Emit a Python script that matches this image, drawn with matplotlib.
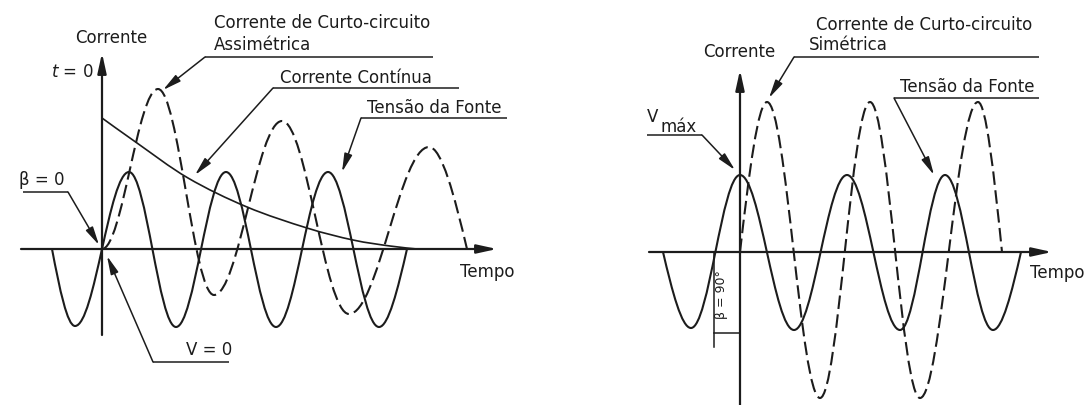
import numpy as np
import matplotlib.pyplot as plt
from matplotlib.path import Path
from matplotlib.patches import PathPatch

INK = '#1c1c1c'
DASH = (0, (6.5, 2.6))

# --- curve knots (x: time offset from origin, y: height above the time axis)
# kind: 'e' = peak/trough (flat tangent), 'z' = crossing end (steep)
left_volt_x = [-50, -27, 27, 74, 124, 174, 226, 277, 305]
left_volt_y = [0, -77, 77, -78, 77, -78, 77, -78, 0]
left_volt_kind = 'zeeeeeeez'

left_short_x = [0, 56, 112, 180, 247, 327, 365]
left_short_y = [0, 160, -46, 128, -65, 102, 0]
left_short_kind = 'eeeeeez'

left_dc_x = [0, 35, 86, 145, 205, 251, 288, 315]
left_dc_y = [131, 106, 71, 42, 21, 9, 3, 0]

right_volt_x = [-77, -49, 0, 54, 107, 160, 205, 253, 281]
right_volt_y = [0, -76, 77, -78, 77, -78, 77, -78, 0]
right_volt_kind = 'zeeeeeeez'

right_short_x = [0, 27, 80, 130, 180, 238, 262]
right_short_y = [0, 150, -146, 150, -146, 150, 0]
right_short_kind = 'zeeeeez'

# --- labels
axis_y_label = 'Corrente'
axis_x_label = 'Tempo'
title_short = 'Corrente de Curto-circuito'
left_sub = 'Assimétrica'
right_sub = 'Simétrica'
dc_label = 'Corrente Contínua'
volt_label = 'Tensão da Fonte'


def wave_path(xs, ys, kinds):
    verts = [(xs[0], ys[0])]
    codes = [Path.MOVETO]
    for i in range(len(xs) - 1):
        x0, y0, x1, y1 = xs[i], ys[i], xs[i + 1], ys[i + 1]
        dx = x1 - x0
        steep = np.pi / 2 * (y1 - y0) / dx
        m0 = 0.0 if kinds[i] == 'e' else steep
        m1 = 0.0 if kinds[i + 1] == 'e' else steep
        h = 0.364 * dx if kinds[i] == kinds[i + 1] == 'e' else dx / 3
        verts += [(x0 + h, y0 + m0 * h), (x1 - h, y1 - m1 * h), (x1, y1)]
        codes += [Path.CURVE4] * 3
    return Path(verts, codes)


def smooth_path(xs, ys):
    pts = np.column_stack([xs, ys]).astype(float)
    pad = np.vstack([pts[0], pts, pts[-1]])
    verts = [tuple(pts[0])]
    codes = [Path.MOVETO]
    for i in range(len(pts) - 1):
        p0, p1, p2, p3 = pad[i], pad[i + 1], pad[i + 2], pad[i + 3]
        verts += [tuple(p1 + (p2 - p0) / 6), tuple(p2 - (p3 - p1) / 6), tuple(p2)]
        codes += [Path.CURVE4] * 3
    return Path(verts, codes)


def draw_curve(ax, path, lw=1.5, ls='-'):
    ax.add_patch(PathPatch(path, fill=False, edgecolor=INK, lw=lw, ls=ls,
                           capstyle='butt', joinstyle='round'))


def arrow(ax, start, tip, lw=1.1, scale=11):
    ax.annotate('', xy=tip, xytext=start,
                arrowprops=dict(arrowstyle='-|>,head_length=1.0,head_width=0.22',
                                lw=lw, color=INK, shrinkA=0, shrinkB=0,
                                mutation_scale=scale))


def leader(ax, x0, x1, y, start, tip):
    ax.plot([x0, x1], [y, y], color=INK, lw=1.1, solid_capstyle='butt')
    arrow(ax, start, tip)


def text(ax, x, y, s, **kw):
    ax.text(x, y, s, fontsize=12, color=INK, family='DejaVu Sans',
            va='center', ha=kw.pop('ha', 'left'), **kw)


fig = plt.figure(figsize=(10.9, 4.05), dpi=100)
fig.patch.set_facecolor('white')

# left panel: origin at pixel (102, 249)
ax1 = fig.add_axes([0, 0, 0.5, 1])
ax1.set_xlim(-102, 443)
ax1.set_ylim(-156, 249)
ax1.axis('off')

# right panel: origin at pixel (740, 252)
ax2 = fig.add_axes([0.5, 0, 0.5, 1])
ax2.set_xlim(-195, 350)
ax2.set_ylim(-153, 252)
ax2.axis('off')

# ---- left: asymmetric short circuit
arrow(ax1, (0, -86), (0, 196), lw=1.6, scale=12)
arrow(ax1, (-81, 0), (395, 0), lw=1.6, scale=12)
draw_curve(ax1, wave_path(left_volt_x, left_volt_y, left_volt_kind))
draw_curve(ax1, wave_path(left_short_x, left_short_y, left_short_kind), ls=DASH)
draw_curve(ax1, smooth_path(left_dc_x, left_dc_y), lw=1.2)

text(ax1, 9, 211, axis_y_label, ha='center')
text(ax1, 358, -23, axis_x_label)
text(ax1, -9, 177, '$t$ = 0', ha='right')
text(ax1, 112, 226, title_short)
text(ax1, 112, 204, left_sub)
leader(ax1, 103, 331, 192, (103, 192), (61, 159))
text(ax1, 178, 171, dc_label)
leader(ax1, 171, 357, 161, (171, 161), (93, 74))
text(ax1, 265, 141, volt_label)
leader(ax1, 259, 405, 131, (259, 131), (240, 77))
text(ax1, -83, 69, 'β = 0')
leader(ax1, -79, -34, 57, (-34, 57), (-3, 4))
text(ax1, 84, -101, 'V = 0')
leader(ax1, 51, 127, -113, (51, -113), (5, -7))

# ---- right: symmetric short circuit
arrow(ax2, (0, -153), (0, 182), lw=1.6, scale=12)
arrow(ax2, (-91, 0), (312, 0), lw=1.6, scale=12)
draw_curve(ax2, wave_path(right_volt_x, right_volt_y, right_volt_kind))
draw_curve(ax2, wave_path(right_short_x, right_short_y, right_short_kind), ls=DASH)

text(ax2, -37, 200, axis_y_label)
text(ax2, 290, -21, axis_x_label)
text(ax2, 76, 227, title_short)
text(ax2, 69, 207, right_sub)
leader(ax2, 54, 299, 195, (54, 195), (29, 154))
text(ax2, 160, 165, volt_label)
leader(ax2, 154, 299, 154, (154, 154), (194, 77))
text(ax2, -93, 135, 'V')
text(ax2, -80, 125, 'máx')
leader(ax2, -93, -38, 117, (-38, 117), (-5, 82))

# beta = 90 degree dimension
ax2.plot([-26, -26], [0, -95], color=INK, lw=1.1)
ax2.plot([-26, 0], [-81, -81], color=INK, lw=1.1)
ax2.text(-18, -43, 'β = 90°', fontsize=9, color=INK, rotation=90,
         ha='center', va='center', family='DejaVu Sans')

fig.savefig('out.png', dpi=100, facecolor='white')
